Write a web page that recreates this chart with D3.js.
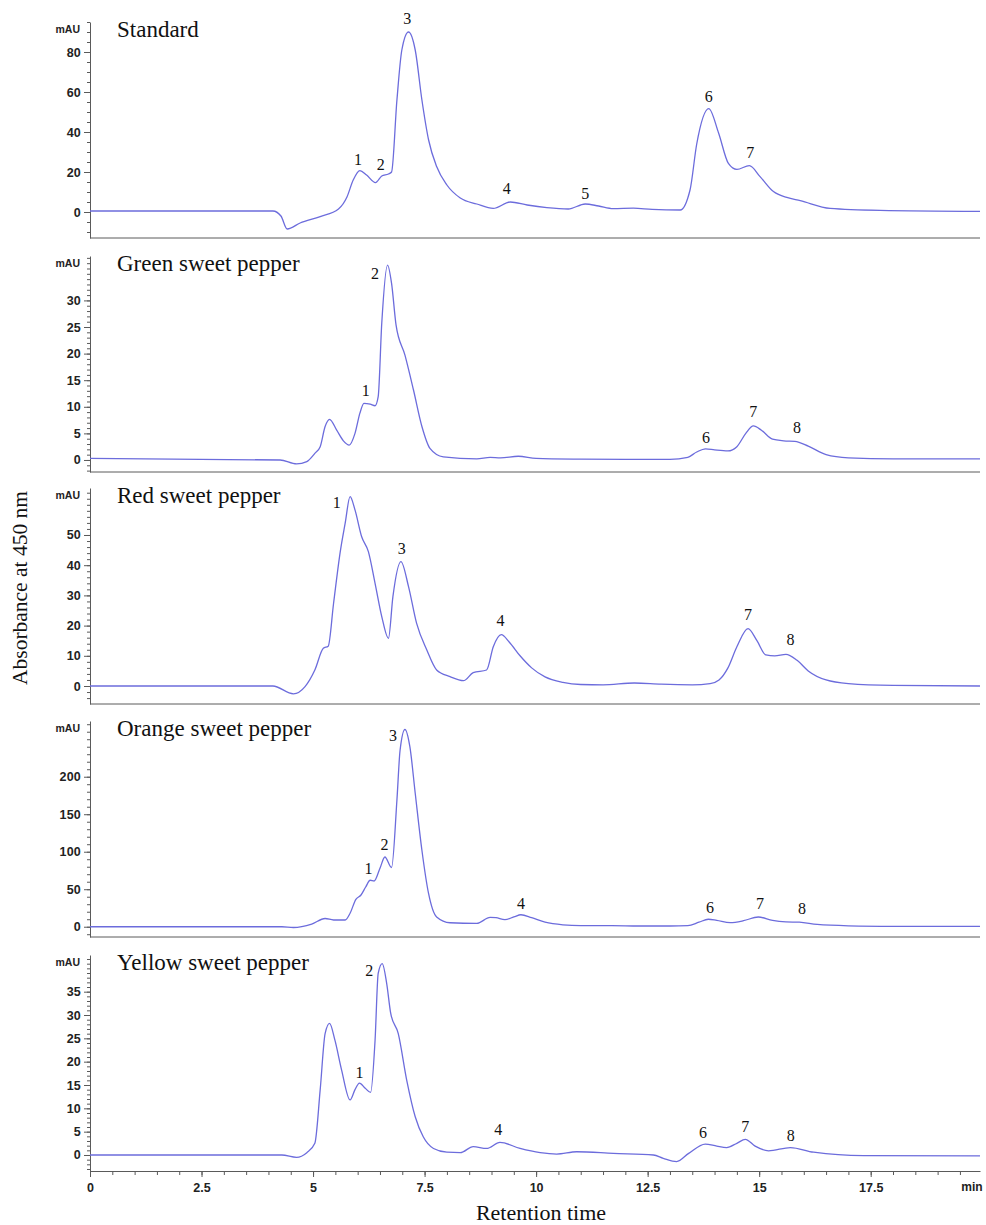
<!DOCTYPE html>
<html>
<head>
<meta charset="utf-8">
<script src="https://cdn.jsdelivr.net/npm/d3@7"></script>
<style>
  body { margin: 0; background: #fff; }
  .tick text { font-family: "Liberation Sans", Arial, sans-serif; }
</style>
</head>
<body>
<div id="chart"></div>
<script>
// traces: [retention time (min), absorbance (mAU)]
const standardTrace = [[0,0.5],[4.1,0.5],[4.28,-2],[4.42,-8.5],[4.71,-5.5],[5.16,-2.3],[5.57,1.5],[5.76,7.5],[5.9,16],[6.05,20.7],[6.2,18.5],[6.4,14.7],[6.54,18],[6.69,19],[6.76,20],[6.88,56],[6.99,81],[7.14,90],[7.29,81],[7.44,56],[7.59,36],[7.77,22.7],[8.0,13.5],[8.3,7],[8.67,4],[9.04,1.8],[9.42,5],[9.8,3.5],[10.24,2.2],[10.72,1.5],[11.1,4],[11.4,3],[11.73,1.7],[12.18,1.9],[12.6,1.3],[13.23,1],[13.45,11],[13.6,34],[13.87,51.7],[14.09,39.5],[14.31,24.3],[14.5,21.3],[14.78,23.2],[15.02,17.7],[15.32,10.2],[15.62,7.3],[15.92,5.7],[16.59,1.8],[17.71,0.8],[19.95,0.3]]
const greenTrace = [[0,0.3],[4.26,0],[4.63,-0.75],[4.86,-0.3],[5.04,1.25],[5.16,2.5],[5.27,6.3],[5.37,7.65],[5.53,5.6],[5.68,3.6],[5.81,2.8],[5.94,5],[6.05,8.8],[6.14,10.65],[6.28,10.5],[6.39,10.2],[6.46,11.9],[6.54,25.7],[6.67,36.65],[6.76,33.2],[6.86,25.4],[7.06,19.7],[7.25,13.2],[7.44,6.3],[7.62,2.2],[7.92,0.6],[8.67,0.2],[8.97,0.5],[9.2,0.4],[9.6,0.7],[10.0,0.3],[11,0.15],[12,0.1],[13,0.1],[13.4,0.5],[13.6,1.5],[13.8,2.1],[14.0,1.9],[14.3,1.7],[14.5,2.5],[14.7,5],[14.87,6.4],[15.05,5.6],[15.3,3.9],[15.55,3.6],[15.8,3.5],[16.1,2.6],[16.5,1],[17,0.4],[18,0.2],[19.95,0.2]]
const redTrace = [[0,0],[4.1,0],[4.56,-2.6],[4.82,-0.2],[5.04,5.3],[5.23,12.5],[5.34,13.2],[5.46,27.4],[5.61,44.5],[5.72,53.9],[5.83,62.7],[5.94,58.3],[6.09,49.4],[6.24,44.5],[6.39,34],[6.54,23],[6.69,15.8],[6.79,29.6],[6.97,41.2],[7.14,32.9],[7.32,20.8],[7.55,11.9],[7.77,5.3],[8.07,3.1],[8.37,1.75],[8.59,4.4],[8.89,5.3],[9.04,13],[9.22,17],[9.4,14.5],[9.64,10],[9.9,6],[10.2,3],[10.6,1.2],[11,0.5],[11.5,0.4],[12.2,1],[12.8,0.6],[13.5,0.4],[13.9,0.8],[14.1,2],[14.3,6],[14.5,13],[14.75,19],[14.95,15],[15.15,10.3],[15.35,10],[15.6,10.5],[15.85,8.5],[16.1,5],[16.5,2],[17,0.8],[18,0.2],[19.95,0]]
const orangeTrace = [[0,0],[4.3,0],[4.56,-1],[4.97,3.6],[5.27,11],[5.46,9],[5.72,9],[5.83,18],[5.96,36.5],[6.07,42],[6.18,53],[6.28,62],[6.37,61],[6.5,78],[6.61,93],[6.76,79],[6.88,169],[6.95,235],[7.06,263],[7.17,240],[7.29,178],[7.44,102],[7.59,44],[7.77,13],[8.07,5.3],[8.67,4.5],[8.97,12.5],[9.1,12],[9.3,9.5],[9.5,13],[9.66,16],[9.9,12],[10.2,6],[10.6,2.5],[11,1.5],[11.7,1.5],[12.3,1],[13,1],[13.4,1.5],[13.65,6],[13.86,10],[14.05,8.5],[14.35,5.5],[14.65,8],[14.98,13],[15.3,8.5],[15.6,6.5],[15.9,6],[16.3,3],[17,1.2],[18,0.6],[19.95,0.5]]
const yellowTrace = [[0,0],[4.3,0],[4.63,-0.5],[4.86,0.5],[5.04,2.5],[5.16,14],[5.27,26],[5.37,28.2],[5.49,24.6],[5.64,18.2],[5.83,11.8],[5.94,14],[6.04,15.4],[6.17,14.3],[6.29,13.4],[6.39,24.6],[6.46,38.9],[6.55,41],[6.65,36.8],[6.74,30.4],[6.91,26],[7.1,16],[7.29,8.2],[7.47,3.9],[7.7,1.4],[8.0,0.6],[8.3,0.5],[8.59,1.8],[8.89,1.4],[9.19,2.7],[9.64,1.4],[10.09,0.5],[10.46,0.2],[10.91,0.7],[11.73,0.35],[12.63,0],[12.85,-0.7],[13.15,-1.4],[13.42,0.35],[13.79,2.35],[14.05,1.9],[14.27,1.6],[14.5,2.5],[14.69,3.35],[14.91,1.9],[15.21,0.9],[15.7,1.6],[16.22,0.6],[17.34,-0.15],[19.95,-0.2]]

// peak numbers: [label, time, absorbance where the label sits]
const standardPeaks = [["1",6.01,26.5],["2",6.52,24],["3",7.11,97],["4",9.34,12],["5",11.1,9.5],["6",13.87,57.7],["7",14.8,29.7]]
const greenPeaks = [["1",6.18,13],["2",6.39,35.1],["6",13.81,4.3],["7",14.87,9.2],["8",15.85,6.2]]
const redPeaks = [["1",5.53,60.8],["3",6.99,45.6],["4",9.2,21.8],["7",14.75,23.8],["8",15.7,15.3]]
const orangePeaks = [["1",6.24,78],["2",6.6,110],["3",6.79,255.6],["4",9.66,31.6],["6",13.9,26],["7",15.02,31.6],["8",15.96,25]]
const yellowPeaks = [["1",6.04,17.8],["2",6.26,39.5],["4",9.15,5.4],["6",13.74,4.8],["7",14.69,6.1],["8",15.71,4.3]]

const sampleNames = ["Standard", "Green sweet pepper", "Red sweet pepper", "Orange sweet pepper", "Yellow sweet pepper"]
const yMajorTicks = [
    [0, 20, 40, 60, 80],
    [0, 5, 10, 15, 20, 25, 30],
    [0, 10, 20, 30, 40, 50],
    [0, 50, 100, 150, 200],
    [0, 5, 10, 15, 20, 25, 30, 35],
]
const yMinorStep = [5, 1, 2, 10, 1]
const xMajorTicks = [0, 2.5, 5, 7.5, 10, 12.5, 15, 17.5]

const traces = [standardTrace, greenTrace, redTrace, orangeTrace, yellowTrace]
const peaks = [standardPeaks, greenPeaks, redPeaks, orangePeaks, yellowPeaks]

// layout
const width = 986
const height = 1225
const left = 90
const right = 980
const panelTops = [22, 256, 488, 721, 955]
const panelHeight = 216
const yDomains = [[-13, 95], [-2.26, 38.35], [-5.96, 65.56], [-13.7, 274.3], [-3.43, 42.86]]
const lineColor = "#6c6cdc"
const axisColor = "#5a5a5a"

const svg = d3.select("#chart")
    .append("svg")
    .attr("width", width)
    .attr("height", height)
    .style("background", "#fff")

const xScale = d3.scaleLinear()
    .domain([0, 19.95])
    .range([left, right])

sampleNames.forEach((name, i) => {
    const top = panelTops[i]
    const yScale = d3.scaleLinear()
        .domain(yDomains[i])
        .range([top + panelHeight, top])

    const panel = svg.append("g").attr("class", "panel")

    // minor y ticks
    const [lo, hi] = yDomains[i]
    const step = yMinorStep[i]
    const minor = d3.range(Math.ceil(lo / step) * step, hi + 0.001, step)
    panel.append("g")
        .attr("transform", `translate(${left},0)`)
        .call(d3.axisLeft(yScale).tickValues(minor).tickSize(3).tickFormat(""))
        .call(g => g.select(".domain").remove())
        .call(g => g.selectAll("line").attr("stroke", axisColor))

    // major y ticks
    panel.append("g")
        .attr("transform", `translate(${left},0)`)
        .call(d3.axisLeft(yScale).tickValues(yMajorTicks[i]).tickSize(6).tickPadding(3).tickSizeOuter(0))
        .call(g => g.select(".domain").attr("stroke", axisColor))
        .call(g => g.selectAll("line").attr("stroke", axisColor))
        .call(g => g.selectAll("text")
            .attr("fill", "#222")
            .style("font-size", "12.5px")
            .style("font-weight", "bold")
            .style("letter-spacing", "0.2px"))

    panel.append("text")
        .attr("x", left - 10)
        .attr("y", top + 11)
        .attr("text-anchor", "end")
        .attr("fill", "#222")
        .style("font-family", "Liberation Sans, Arial, sans-serif")
        .style("font-size", "10.5px")
        .style("font-weight", "bold")
        .text("mAU")

    // x axis
    const isLast = i === sampleNames.length - 1
    if (isLast) {
        const xMinor = d3.range(0, 19.6, 0.5)
        panel.append("g")
            .attr("transform", `translate(0,${top + panelHeight})`)
            .call(d3.axisBottom(xScale).tickValues(xMinor).tickSize(4).tickFormat(""))
            .call(g => g.select(".domain").remove())
            .call(g => g.selectAll("line").attr("stroke", axisColor))
        panel.append("g")
            .attr("transform", `translate(0,${top + panelHeight})`)
            .call(d3.axisBottom(xScale).tickValues(xMajorTicks).tickSize(6).tickPadding(6).tickSizeOuter(0)
                .tickFormat(d => d3.format("~g")(d)))
            .call(g => g.select(".domain").attr("stroke", axisColor))
            .call(g => g.selectAll("line").attr("stroke", axisColor))
            .call(g => g.selectAll("text")
                .attr("fill", "#222")
                .style("font-size", "12.5px")
                .style("font-weight", "bold"))
        panel.append("text")
            .attr("x", xScale(19.77))
            .attr("y", top + panelHeight + 20)
            .attr("text-anchor", "middle")
            .attr("fill", "#222")
            .style("font-family", "Liberation Sans, Arial, sans-serif")
            .style("font-size", "12px")
            .style("font-weight", "bold")
            .text("min")
    } else {
        panel.append("line")
            .attr("x1", left)
            .attr("x2", right)
            .attr("y1", top + panelHeight)
            .attr("y2", top + panelHeight)
            .attr("stroke", axisColor)
    }

    // trace
    const line = d3.line()
        .x(d => xScale(d[0]))
        .y(d => yScale(d[1]))
        .curve(d3.curveMonotoneX)

    panel.append("path")
        .datum(traces[i])
        .attr("d", line)
        .attr("fill", "none")
        .attr("stroke", lineColor)
        .attr("stroke-width", 1.3)

    // sample name
    panel.append("text")
        .attr("x", left + 27)
        .attr("y", top + 15)
        .attr("fill", "#111")
        .style("font-family", "Liberation Serif, Times New Roman, serif")
        .style("font-size", "23px")
        .text(name)

    // peak numbers
    panel.selectAll(".peak")
        .data(peaks[i])
        .join("text")
        .attr("class", "peak")
        .attr("x", d => xScale(d[1]))
        .attr("y", d => yScale(d[2]))
        .attr("dy", "0.35em")
        .attr("text-anchor", "middle")
        .attr("fill", "#111")
        .style("font-family", "Liberation Serif, Times New Roman, serif")
        .style("font-size", "16px")
        .text(d => d[0])
})

// axis titles
svg.append("text")
    .attr("transform", `translate(27,${588}) rotate(-90)`)
    .attr("text-anchor", "middle")
    .attr("fill", "#111")
    .style("font-family", "Liberation Serif, Times New Roman, serif")
    .style("font-size", "21.5px")
    .text("Absorbance at 450 nm")

svg.append("text")
    .attr("x", 541)
    .attr("y", 1220)
    .attr("text-anchor", "middle")
    .attr("fill", "#111")
    .style("font-family", "Liberation Serif, Times New Roman, serif")
    .style("font-size", "22px")
    .text("Retention time")
</script>
</body>
</html>
